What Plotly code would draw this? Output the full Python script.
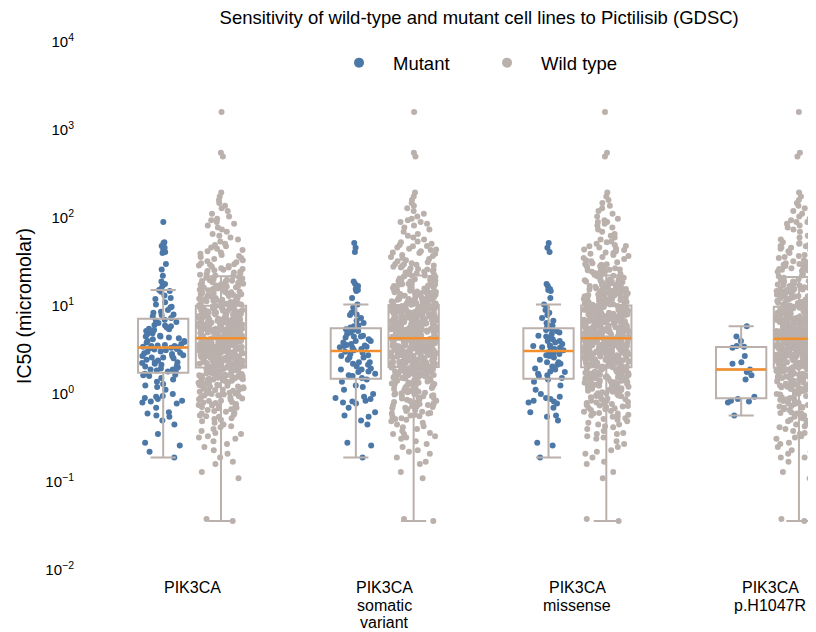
import numpy as np
import plotly.graph_objects as go

# ---------------- data (IC50, micromolar) ----------------
categories = ["PIK3CA", "PIK3CA somatic variant", "PIK3CA missense", "PIK3CA p.H1047R"]
series_names = ["Mutant", "Wild type"]

# PIK3CA p.H1047R mutant lines
mut_h1047r = [5.9, 4.5, 4.0, 3.5, 3.45, 3.35, 2.7, 2.3, 2.2, 1.9, 1.78, 1.63, 1.46,
              0.93, 0.88, 0.84, 0.82, 0.80, 0.57]
# other missense mutant lines
mut_missense_rest = [52, 46, 41, 17.8, 16.9, 15.6, 15.2, 14.8, 12.3, 10.4, 9.6, 9.0, 8.4, 7.9,
                     7.3, 6.8, 6.4, 6.0, 5.7,
                     5.45, 5.35, 5.2, 5.0, 4.8, 4.6, 4.4, 4.2, 4.0, 3.85, 3.7, 3.55, 3.4, 3.25, 3.15,
                     3.02, 2.95, 2.85, 2.75, 2.6, 2.45, 2.3, 2.15, 2.05, 1.95, 1.8, 1.7, 1.6, 1.52,
                     1.38, 1.25, 1.12, 1.0, 0.9, 0.78, 0.7, 0.62, 0.55, 0.5, 0.28, 0.26, 0.19]
# other somatic (non-missense) variant lines
mut_somatic_rest = [19, 8.0, 4.5, 3.6, 2.6, 1.9, 1.2, 0.45]
# other PIK3CA-altered lines
mut_other = [90, 53, 48, 44, 40, 30, 26, 22, 14.5, 13.2, 12.0, 11.0, 9.8, 8.6, 7.6,
             7.0, 6.6, 6.1, 5.5, 4.9, 4.3, 3.9, 3.5,
             3.32, 3.2, 3.05, 2.9, 2.7, 2.55, 2.4, 2.25, 2.1, 2.0, 1.85,
             1.65, 1.3, 0.95, 0.6, 0.35, 0.22]

# wild-type (never PIK3CA altered) lines
wt_low = [1.99, 1.97, 1.96, 1.94, 1.93, 1.91, 1.89, 1.88, 1.86, 1.84,
          1.83, 1.81, 1.79, 1.78, 1.76, 1.74, 1.72, 1.71, 1.69, 1.67,
          1.66, 1.64, 1.62, 1.61, 1.59, 1.58, 1.56, 1.55, 1.54, 1.53,
          1.52, 1.51, 1.505, 1.57, 1.63,
          1.49, 1.47, 1.46, 1.44, 1.42, 1.41, 1.39, 1.37, 1.36, 1.34,
          1.32, 1.31, 1.29, 1.27, 1.26, 1.24, 1.22, 1.21, 1.19, 1.17,
          1.16, 1.14, 1.12, 1.11, 1.09, 1.08, 1.06, 1.05, 1.03, 1.02,
          1.01, 1.0, 1.15, 1.25, 1.35,
          0.99, 0.97, 0.96, 0.94, 0.92, 0.91, 0.89, 0.87, 0.86, 0.84,
          0.83, 0.81, 0.8, 0.79, 0.77, 0.76, 0.75, 0.74, 0.73, 0.72, 0.71, 0.7,
          0.69, 0.67, 0.66, 0.64, 0.63, 0.61, 0.6, 0.58, 0.57, 0.56, 0.55, 0.53, 0.52, 0.51,
          0.49, 0.47, 0.45, 0.43, 0.42, 0.4, 0.38, 0.36, 0.35, 0.33, 0.32, 0.31,
          0.29, 0.27, 0.25, 0.23, 0.21, 0.19, 0.17, 0.16,
          0.13, 0.11, 0.038, 0.036]
wt_mid_low = [2.01, 2.02, 2.04, 2.05, 2.07, 2.09, 2.10, 2.12, 2.14, 2.15,
              2.17, 2.19, 2.20, 2.22, 2.24, 2.25, 2.27, 2.29, 2.31, 2.32,
              2.34, 2.36, 2.37, 2.39, 2.41, 2.43, 2.44, 2.46, 2.48, 2.50,
              2.51, 2.53, 2.55, 2.57, 2.58, 2.60, 2.62, 2.64, 2.65, 2.67,
              2.69, 2.71, 2.73, 2.74, 2.76, 2.78, 2.80, 2.82, 2.83, 2.85,
              2.87, 2.89, 2.91, 2.92, 2.94, 2.96, 2.98, 3.00, 3.01, 3.03,
              3.05, 3.07, 3.09, 3.11, 3.12, 3.14, 3.16, 3.18, 3.20, 3.22,
              3.24, 3.25, 3.27, 3.29, 3.31, 3.33, 3.35, 3.37, 3.38, 3.40,
              3.42, 3.44, 3.46, 3.48, 3.50, 3.52, 3.54, 3.55, 3.57, 3.59,
              3.61, 3.63, 3.65, 3.67, 3.69, 3.71, 3.73, 3.75, 3.77, 3.79,
              3.81, 3.83, 3.85, 3.87, 3.89, 3.91, 3.93, 3.95, 3.97, 3.99,
              4.01, 4.03, 4.05, 4.07, 4.09, 4.11, 4.13, 4.15, 4.17, 4.19,
              4.21, 4.23, 4.24, 4.25, 4.26, 4.27, 4.28, 4.29, 4.22, 4.18]
wt_mid_high = [4.31, 4.34, 4.37, 4.40, 4.43, 4.46, 4.49, 4.52, 4.55, 4.58,
               4.61, 4.64, 4.67, 4.71, 4.74, 4.77, 4.80, 4.84, 4.87, 4.90,
               4.94, 4.97, 5.01, 5.04, 5.08, 5.11, 5.15, 5.18, 5.22, 5.26,
               5.29, 5.33, 5.37, 5.41, 5.45, 5.48, 5.52, 5.56, 5.60, 5.64,
               5.68, 5.72, 5.77, 5.81, 5.85, 5.89, 5.93, 5.98, 6.02, 6.06,
               6.11, 6.15, 6.20, 6.24, 6.29, 6.33, 6.38, 6.43, 6.47, 6.52,
               6.57, 6.62, 6.67, 6.72, 6.77, 6.82, 6.87, 6.92, 6.97, 7.02,
               7.08, 7.13, 7.18, 7.24, 7.29, 7.35, 7.40, 7.46, 7.52, 7.57,
               7.63, 7.69, 7.75, 7.81, 7.87, 7.93, 7.99, 8.05, 8.12, 8.18,
               8.24, 8.31, 8.37, 8.44, 8.50, 8.57, 8.64, 8.71, 8.78, 8.85,
               8.92, 8.99, 9.06, 9.13, 9.20, 9.28, 9.35, 9.43, 9.50, 9.58,
               9.65, 9.73, 9.81, 9.89, 9.97, 9.99, 4.33, 5.00, 6.00, 7.00,
               8.00, 9.00, 4.45, 5.50, 6.50, 7.50, 8.50, 9.45, 5.25, 6.75]
wt_high = [10.1, 10.2, 10.3, 10.4, 10.5, 10.6, 10.8, 10.9, 11.0, 11.1,
           11.3, 11.4, 11.5, 11.7, 11.8, 12.0, 12.1, 12.3, 12.4, 12.6,
           12.7, 12.9, 13.0, 13.1, 13.3, 13.4, 13.6, 13.7, 13.9, 14.0,
           14.1, 14.3, 14.4, 14.6, 14.7, 14.8, 14.9, 10.7, 11.9, 13.5,
           15.1, 15.3, 15.4, 15.6, 15.8, 16.0, 16.2, 16.3, 16.5, 16.7,
           16.9, 17.1, 17.3, 17.5, 17.7, 17.9, 18.1, 18.4, 18.6, 18.8,
           19.0, 19.2, 19.4, 19.6, 19.9,
           20.2, 20.6, 21.0, 21.4, 21.8, 22.2, 22.7, 23.1, 23.6, 24.0, 24.5,
           25.0, 25.4, 25.9, 26.4, 26.9, 27.4, 27.9, 28.4, 28.9, 29.4, 29.9,
           30.6, 31.5, 32.3, 33.2, 34.1, 35.0, 36.0, 37.0, 38.1, 39.3, 40.5,
           41.8, 43.2, 44.6, 46.1, 47.7, 49.4,
           51, 54, 57, 60, 63, 66, 70, 74, 78, 82, 86, 90, 94, 98,
           104, 112, 120, 129, 138, 148, 160, 175, 195,
           500, 550, 1600]

y_tickvals = [1e-2, 1e-1, 1e0, 1e1, 1e2, 1e3, 1e4]
y_ticktext = ["10<sup>\u22122</sup>", "10<sup>\u22121</sup>", "10<sup>0</sup>", "10<sup>1</sup>",
              "10<sup>2</sup>", "10<sup>3</sup>", "10<sup>4</sup>"]

# ---------------- group composition ----------------
wt_core = wt_low + wt_mid_low + wt_mid_high + wt_high
mutant_groups = [
    mut_h1047r + mut_missense_rest + mut_somatic_rest + mut_other,
    mut_h1047r + mut_missense_rest + mut_somatic_rest,
    mut_h1047r + mut_missense_rest,
    mut_h1047r,
]
wild_groups = [
    wt_core,
    wt_core + mut_other,
    wt_core + mut_other + mut_somatic_rest,
    wt_core + mut_other + mut_somatic_rest + mut_missense_rest,
]

BLUE = "#4C78A8"
GRAY = "#BAB0AC"
ORANGE = "#F28E2B"
CLEAR = "rgba(0,0,0,0)"
FONT = "Liberation Sans, Arial, Helvetica, sans-serif"

fig = go.Figure()

def flat(groups):
    xs, ys = [], []
    for cat, vals in zip(categories, groups):
        xs += [cat] * len(vals)
        ys += list(vals)
    return xs, ys

specs = [("Mutant", mutant_groups, BLUE, "m", 0.85), ("Wild type", wild_groups, GRAY, "w", 0.9)]

# points layer
for name, groups, color, og, jit in specs:
    xs, ys = flat(groups)
    fig.add_trace(go.Box(x=xs, y=ys, name=name, offsetgroup=og, boxpoints="all", jitter=jit,
                         pointpos=0, marker=dict(color=color, size=6, opacity=1, line=dict(width=0)),
                         line=dict(color=CLEAR, width=0), fillcolor=CLEAR, whiskerwidth=0,
                         showlegend=False, hoverinfo="y"))
# box outline layer (Tukey whiskers, outlier markers hidden)
for name, groups, color, og, jit in specs:
    xs, ys = flat(groups)
    fig.add_trace(go.Box(x=xs, y=ys, name=name, offsetgroup=og, boxpoints="outliers",
                         marker=dict(color=CLEAR, size=1, opacity=0),
                         line=dict(color=GRAY, width=2), fillcolor=CLEAR, whiskerwidth=0.5,
                         showlegend=False, hoverinfo="skip"))
# median layer
for name, groups, color, og, jit in specs:
    med = [float(np.median(g)) for g in groups]
    fig.add_trace(go.Box(x=categories, q1=med, median=med, q3=med, lowerfence=med, upperfence=med,
                         name=name, offsetgroup=og, line=dict(color=ORANGE, width=2.5),
                         boxpoints=False, fillcolor=CLEAR, whiskerwidth=0, showlegend=False,
                         hoverinfo="skip"))
# legend entries
for name, groups, color, og, jit in specs:
    fig.add_trace(go.Scatter(x=[None], y=[None], mode="markers", name=name,
                             marker=dict(color=color, size=10)))

# category labels, one line per annotation (tight line spacing)
annotations = []
line_offsets = [17.5, 35.5, 52.5]
for cat in categories:
    for k, part in enumerate(cat.split(" ")):
        annotations.append(dict(x=cat, xref="x", y=0, yref="paper", yanchor="middle",
                                yshift=-line_offsets[k], text=part, showarrow=False,
                                font=dict(size=16, family=FONT, color="black")))

fig.update_layout(
    width=816, height=632,
    margin=dict(l=76, r=0, t=34, b=70),
    paper_bgcolor="white", plot_bgcolor="white",
    font=dict(family=FONT, color="black"),
    boxmode="group", boxgap=0.4, boxgroupgap=0.13,
    title=dict(text="Sensitivity of wild-type and mutant cell lines to Pictilisib (GDSC)",
               x=0.5774, xanchor="center", y=0.9857, yanchor="middle",
               font=dict(size=18.5, family=FONT, color="black")),
    legend=dict(orientation="h", x=0.3257, xanchor="left", y=0.960, yanchor="middle",
                font=dict(size=18.5), bgcolor=CLEAR, itemwidth=58,
                entrywidth=75, entrywidthmode="pixels"),
    annotations=annotations,
    xaxis=dict(type="category", categoryorder="array", categoryarray=categories,
               range=[-0.561, 3.280], showgrid=False, zeroline=False, showline=False,
               ticks="", showticklabels=False),
    yaxis=dict(type="log", range=[-2, 4], tickvals=y_tickvals, ticktext=y_ticktext,
               showgrid=False, zeroline=False, showline=False,
               ticks="outside", ticklen=6, tickcolor=CLEAR,
               tickfont=dict(size=15),
               title=dict(text="IC50 (micromolar)", font=dict(size=19.5), standoff=8)),
)

fig.write_html("out.html")
